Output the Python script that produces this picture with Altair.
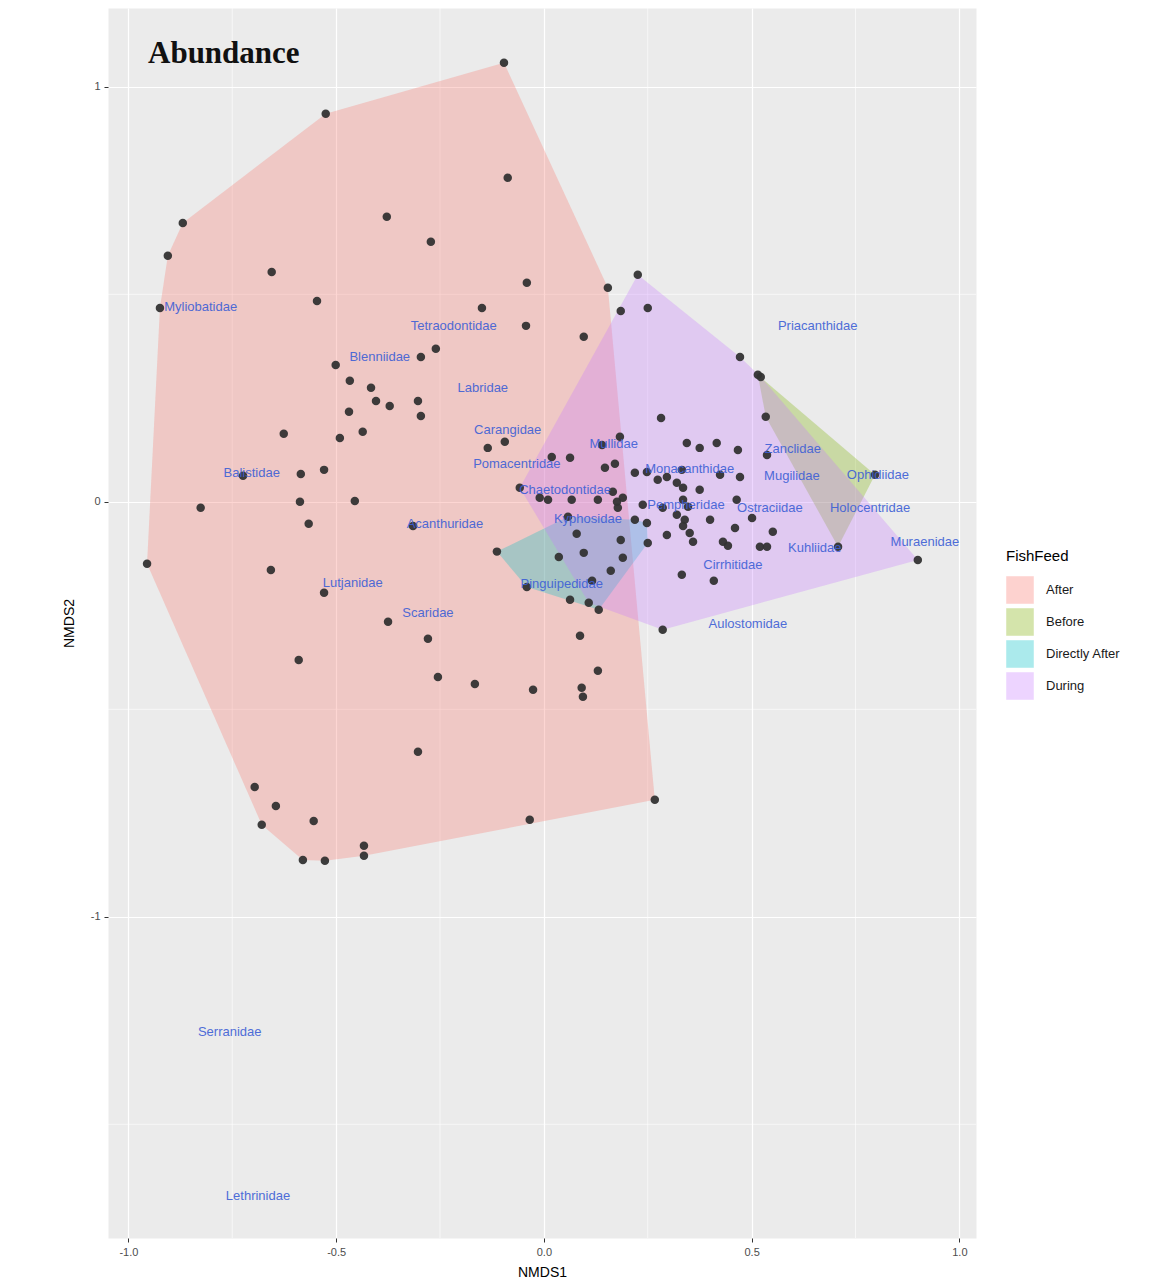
import altair as alt
import pandas as pd

# ---------------- data ----------------
after_x = [-0.096, -0.525, -0.087, -0.869, -0.905, -0.378, -0.272, -0.655, -0.041, -0.546,
           -0.924, -0.149, -0.043, 0.096, 0.154, -0.260, -0.296, -0.501, -0.467, -0.416,
           -0.404, -0.371, -0.303, -0.296, -0.469, -0.626, -0.491, -0.436, -0.135, -0.094,
           0.019, 0.063, -0.724, -0.585, -0.529, -0.587, -0.455, -0.566, -0.826, -0.315,
           -0.955, -0.657, -0.529, -0.375, -0.279, -0.590, -0.255, -0.166, -0.026, 0.091,
           0.094, 0.130, 0.087, -0.303, -0.696, -0.645, -0.679, -0.554, -0.580, -0.527,
           -0.433, -0.433, -0.034, 0.267]
after_y = [1.058, 0.935, 0.781, 0.672, 0.593, 0.687, 0.627, 0.554, 0.528, 0.484,
           0.467, 0.467, 0.424, 0.398, 0.516, 0.369, 0.349, 0.330, 0.292, 0.275,
           0.243, 0.231, 0.243, 0.207, 0.217, 0.164, 0.154, 0.169, 0.130, 0.145,
           0.108, 0.106, 0.063, 0.067, 0.077, 0.000, 0.002, -0.053, -0.014, -0.058,
           -0.149, -0.164, -0.219, -0.289, -0.330, -0.381, -0.422, -0.439, -0.453, -0.448,
           -0.470, -0.407, -0.323, -0.602, -0.687, -0.733, -0.778, -0.769, -0.863, -0.865,
           -0.829, -0.853, -0.766, -0.718]

before_x = [0.515, 0.534, 0.797, 0.708]
before_y = [0.306, 0.205, 0.065, -0.108]

direct_x = [-0.113, -0.041, 0.036, 0.063, 0.079, 0.096, 0.116, 0.132, 0.161, 0.190,
            0.185, 0.219, 0.248, 0.250, 0.058]
direct_y = [-0.120, -0.205, -0.133, -0.236, -0.077, -0.123, -0.190, -0.260, -0.166, -0.135,
            -0.092, -0.043, -0.051, -0.099, -0.036]

during_x = [0.226, 0.250, 0.185, 0.472, 0.522, 0.282, 0.183, 0.140, 0.344, 0.375,
            0.416, 0.467, 0.537, 0.147, 0.171, 0.219, 0.248, 0.274, 0.296, 0.332,
            0.320, 0.335, 0.375, 0.424, 0.472, -0.058, -0.010, 0.010, 0.067, 0.130,
            0.166, 0.176, 0.190, 0.178, 0.238, 0.286, 0.335, 0.347, 0.464, 0.320,
            0.339, 0.335, 0.400, 0.501, 0.296, 0.351, 0.359, 0.431, 0.443, 0.460,
            0.551, 0.520, 0.537, 0.332, 0.409, 0.286, 0.900, 0.108]
during_y = [0.547, 0.467, 0.460, 0.349, 0.301, 0.202, 0.157, 0.137, 0.142, 0.130,
            0.142, 0.125, 0.113, 0.082, 0.092, 0.070, 0.072, 0.053, 0.060, 0.077,
            0.046, 0.034, 0.029, 0.065, 0.060, 0.034, 0.010, 0.005, 0.005, 0.005,
            0.024, 0.000, 0.010, -0.014, -0.007, -0.014, 0.005, -0.012, 0.005, -0.031,
            -0.043, -0.058, -0.043, -0.039, -0.080, -0.075, -0.096, -0.096, -0.106, -0.063,
            -0.072, -0.108, -0.108, -0.176, -0.190, -0.308, -0.140, -0.243]

species = ["Myliobatidae", "Tetraodontidae", "Blenniidae", "Labridae", "Carangidae",
           "Mullidae", "Pomacentridae", "Monacanthidae", "Chaetodontidae", "Kyphosidae",
           "Acanthuridae", "Pempheridae", "Priacanthidae", "Zanclidae", "Mugilidae",
           "Ophidiidae", "Ostraciidae", "Holocentridae", "Kuhliidae", "Muraenidae",
           "Cirrhitidae", "Pinguipedidae", "Aulostomidae", "Balistidae", "Lutjanidae",
           "Scaridae", "Serranidae", "Lethrinidae"]
species_x = [-0.826, -0.217, -0.395, -0.147, -0.087, 0.168, -0.065, 0.351, 0.051, 0.106,
             -0.238, 0.342, 0.659, 0.599, 0.597, 0.804, 0.544, 0.785, 0.652, 0.917,
             0.455, 0.043, 0.491, -0.703, -0.460, -0.279, -0.756, -0.688]
species_y = [0.470, 0.424, 0.349, 0.275, 0.173, 0.140, 0.092, 0.080, 0.029, -0.041,
             -0.053, -0.007, 0.424, 0.128, 0.063, 0.065, -0.014, -0.014, -0.111, -0.096,
             -0.152, -0.198, -0.294, 0.070, -0.195, -0.267, -1.277, -1.672]

groups = ["After", "Before", "Directly After", "During"]
group_colors = ["#F8766D", "#7CAE00", "#00BFC4", "#C77CFF"]
x_minor = [-0.75, -0.25, 0.25, 0.75]
y_minor = [-1.5, -0.5, 0.5]

# ---------------- tables ----------------
series = {"After": (after_x, after_y), "Before": (before_x, before_y),
          "Directly After": (direct_x, direct_y), "During": (during_x, during_y)}

pts = pd.DataFrame([{"NMDS1": x, "NMDS2": y, "FishFeed": g}
                    for g, (xs, ys) in series.items() for x, y in zip(xs, ys)])


def convex_hull(p):
    p = sorted(set(p))
    if len(p) <= 2:
        return p

    def cross(o, a, b):
        return (a[0] - o[0]) * (b[1] - o[1]) - (a[1] - o[1]) * (b[0] - o[0])
    lower, upper = [], []
    for q in p:
        while len(lower) >= 2 and cross(lower[-2], lower[-1], q) <= 0:
            lower.pop()
        lower.append(q)
    for q in reversed(p):
        while len(upper) >= 2 and cross(upper[-2], upper[-1], q) <= 0:
            upper.pop()
        upper.append(q)
    return lower[:-1] + upper[:-1]


hull_rows = []
for g, (xs, ys) in series.items():
    for i, (x, y) in enumerate(convex_hull(list(zip(xs, ys)))):
        hull_rows.append({"NMDS1": x, "NMDS2": y, "FishFeed": g, "idx": i})
hulls = pd.DataFrame(hull_rows)

labels = pd.DataFrame({"name": species, "NMDS1": species_x, "NMDS2": species_y})

XDOM = [-1.049, 1.040]
YDOM = [-1.774, 1.19]
xs = alt.Scale(domain=XDOM, nice=False, zero=False)
ys = alt.Scale(domain=YDOM, nice=False, zero=False)

hyphen = "replace(datum.label, '\u2212', '-')"
x_enc = alt.X("NMDS1:Q", scale=xs, title="NMDS1",
              axis=alt.Axis(values=[-1, -0.5, 0, 0.5, 1], format=".1f", labelExpr=hyphen))
y_enc = alt.Y("NMDS2:Q", scale=ys, title="NMDS2",
              axis=alt.Axis(values=[-1, 0, 1], format="d", labelExpr=hyphen))

gx = alt.Chart(pd.DataFrame({"v": x_minor})).mark_rule(
    color="white", strokeWidth=0.6).encode(x=alt.X("v:Q", scale=xs))
gy = alt.Chart(pd.DataFrame({"v": y_minor})).mark_rule(
    color="white", strokeWidth=0.6).encode(y=alt.Y("v:Q", scale=ys))

hull_layer = alt.Chart(hulls).mark_line(
    interpolate="linear-closed", fillOpacity=0.3, strokeOpacity=0, strokeWidth=0
).encode(
    x=x_enc, y=y_enc,
    fill=alt.Fill("FishFeed:N",
                  scale=alt.Scale(domain=groups, range=group_colors),
                  legend=alt.Legend(title="FishFeed", orient="none",
                                    legendX=898, legendY=541,
                                    symbolType="square", symbolSize=760,
                                    symbolOpacity=0.33, symbolStrokeWidth=0,
                                    titleFontSize=15, titleFontWeight="normal",
                                    titleColor="#000000", titleFont="Liberation Sans",
                                    titlePadding=12,
                                    labelFontSize=13, labelFont="Liberation Sans",
                                    labelColor="#1a1a1a", labelOffset=12,
                                    rowPadding=4)),
    order=alt.Order("idx:Q"),
)

point_layer = alt.Chart(pts).mark_circle(size=72, color="#333333", opacity=0.95).encode(
    x=x_enc, y=y_enc)

text_layer = alt.Chart(labels).mark_text(
    fontSize=13, color="#3D5FD6", opacity=0.9, font="Liberation Sans"
).encode(x=x_enc, y=y_enc, text="name:N")

title_layer = alt.Chart(pd.DataFrame({"t": ["Abundance"]})).mark_text(
    font="Liberation Serif", fontSize=31, fontWeight="bold", color="#111111",
    align="left", baseline="middle"
).encode(x=alt.value(40), y=alt.value(46), text="t:N")

chart = alt.layer(gx, gy, hull_layer, point_layer, text_layer, title_layer).properties(
    width=868, height=1230,
    padding={"left": 100, "top": 0, "right": 189, "bottom": 41},
    autosize=alt.AutoSizeParams(type="none"),
).configure_view(
    fill="#EBEBEB", stroke="transparent"
).configure_axis(
    grid=True, gridColor="white", gridWidth=1.2, domain=False,
    tickColor="#333333", tickSize=4, labelColor="#4D4D4D", labelFontSize=11,
    labelFont="Liberation Sans", titleFont="Liberation Sans", titleFontSize=14,
    titleFontWeight="normal", titleColor="#000000", labelPadding=4,
).configure_axisX(titlePadding=8).configure_axisY(titlePadding=14)

chart.save("out.html", embed_options={"renderer": "svg", "actions": False})
